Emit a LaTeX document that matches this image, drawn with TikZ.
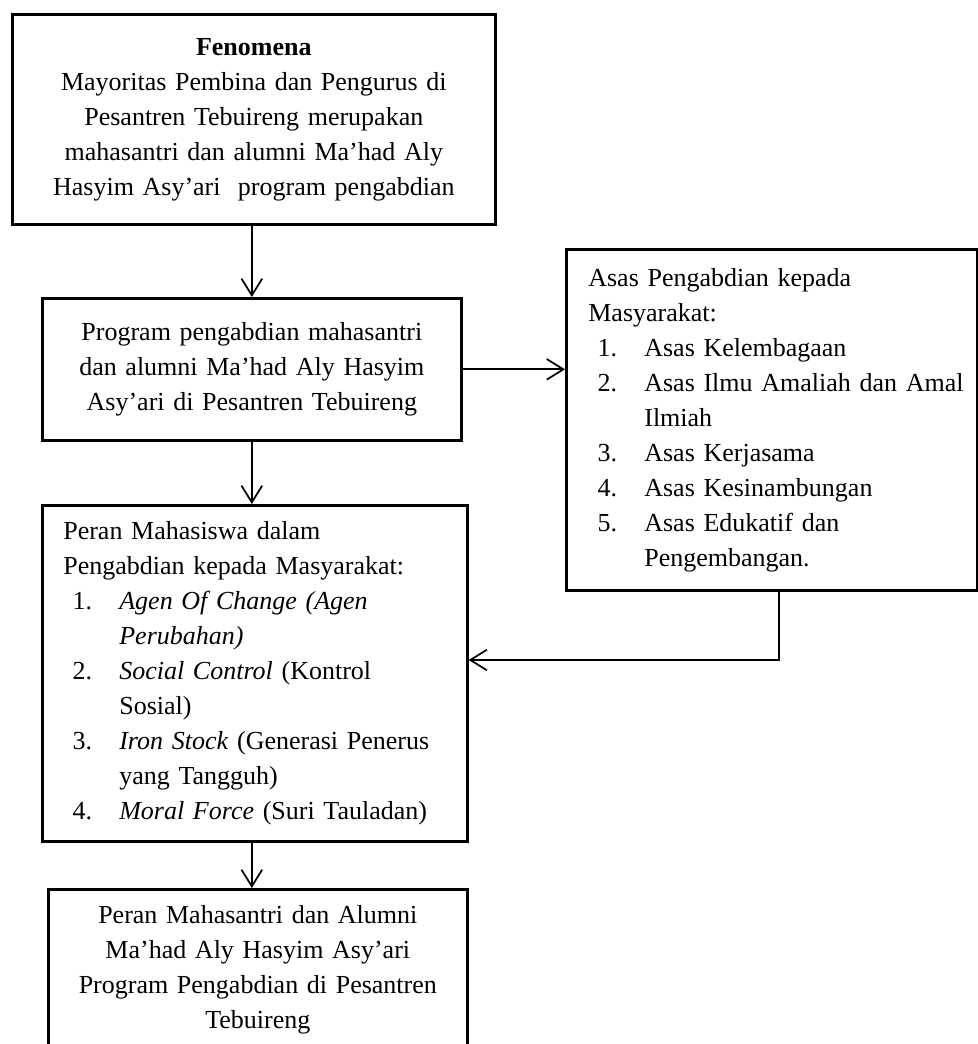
\documentclass[tikz,border=0pt]{standalone}
\usepackage{fontspec}
\setmainfont{Liberation Serif}
\usetikzlibrary{arrows.meta}

\tikzset{every picture/.style={line width=0.75pt}}
\tikzset{
  kotak/.style={draw, line width=2pt, anchor=north west, inner ysep=0pt,
    font=\fontsize{19.5pt}{26.25pt}\selectfont},
  panah/.style={line width=1.3pt, -{Straight Barb[length=12.5pt,width=15.5pt]}},
}
\newcommand{\butir}[2]{\hspace*{7pt}\makebox[35pt][l]{#1}\mbox{#2}}
\newcommand{\lanjut}[1]{\hspace*{42pt}\mbox{#1}}

\begin{document}
\begin{tikzpicture}[x=0.75pt,y=0.75pt,yscale=-1,xscale=1]
\useasboundingbox (0,0) rectangle (977,1044);

%Shape: Rectangle (fenomena)
\node (feno) [kotak, align=center, inner xsep=8pt, text width=346.25pt,
  minimum width=362.25pt, minimum height=157.5pt] at (11,13)
  {\textbf{Fenomena}\\
   Mayoritas Pembina dan Pengurus di\\
   Pesantren Tebuireng merupakan\\
   mahasantri dan alumni Ma’had Aly\\
   Hasyim Asy’ari~ program pengabdian};

%Shape: Rectangle (program)
\node (prog) [kotak, align=center, inner xsep=8pt, text width=298.25pt,
  minimum width=314.25pt, minimum height=106.5pt] at (41,297)
  {Program pengabdian mahasantri\\
   dan alumni Ma’had Aly Hasyim\\
   Asy’ari di Pesantren Tebuireng};

%Shape: Rectangle (asas)
\node (asas) [kotak, align=left, inner xsep=16.5pt, text width=275.25pt,
  minimum width=308.25pt, minimum height=255.75pt] at (565,248)
  {Asas Pengabdian kepada\\
   Masyarakat:\\
   \butir{1.}{Asas Kelembagaan}\\
   \butir{2.}{Asas Ilmu Amaliah dan Amal}\\
   \lanjut{Ilmiah}\\
   \butir{3.}{Asas Kerjasama}\\
   \butir{4.}{Asas Kesinambungan}\\
   \butir{5.}{Asas Edukatif dan}\\
   \lanjut{Pengembangan.}};

%Shape: Rectangle (peran)
\node (peran) [kotak, align=left, inner xsep=15.75pt, text width=287.25pt,
  minimum width=318.75pt, minimum height=252pt] at (41,504)
  {Peran Mahasiswa dalam\\
   Pengabdian kepada Masyarakat:\\
   \butir{1.}{\textit{Agen Of Change (Agen}}\\
   \lanjut{\textit{Perubahan)}}\\
   \butir{2.}{\textit{Social Control} (Kontrol}\\
   \lanjut{Sosial)}\\
   \butir{3.}{\textit{Iron Stock} (Generasi Penerus}\\
   \lanjut{yang Tangguh)}\\
   \butir{4.}{\textit{Moral Force} (Suri Tauladan)}};

%Shape: Rectangle (hasil)
\node (hasil) [kotak, align=center, inner xsep=8pt, text width=298.25pt,
  minimum width=314.25pt, minimum height=120.75pt] at (47,888)
  {Peran Mahasantri dan Alumni\\
   Ma’had Aly Hasyim Asy’ari\\
   Program Pengabdian di Pesantren\\
   Tebuireng};

%Straight Lines
\coordinate (belok) at (779,660);
\draw [panah] (prog.north |- feno.south) -- (prog.north);
\draw [panah] (prog.east) -- (asas.west |- prog.east);
\draw [panah] (prog.south) -- (peran.north -| prog.south);
\draw [panah] (asas.south -| belok) -- (belok) -- (peran.east |- belok);
\draw [panah] (peran.south -| prog.south) -- (hasil.north -| prog.south);

\end{tikzpicture}
\end{document}
